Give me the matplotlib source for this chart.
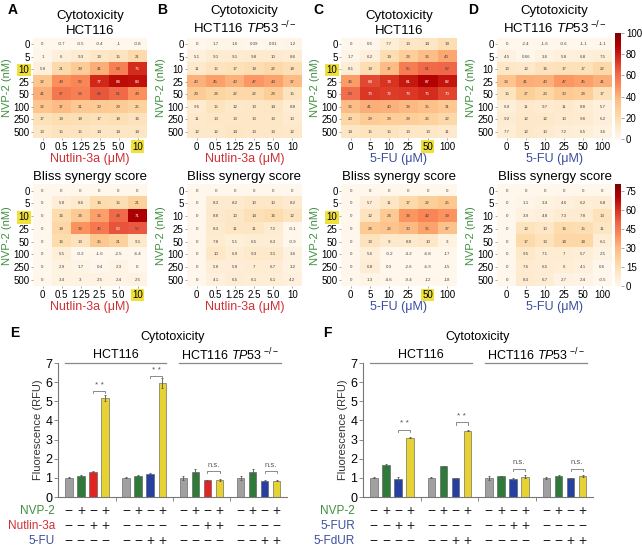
import numpy as np
import matplotlib
import matplotlib.pyplot as plt
from matplotlib import transforms

plt.rcParams['font.family'] = ['Liberation Sans', 'DejaVu Sans']
plt.rcParams['mathtext.fontset'] = 'custom'
plt.rcParams['mathtext.rm'] = 'Liberation Sans'
plt.rcParams['mathtext.it'] = 'Liberation Sans:italic'

# ---- data ----
nvp2_doses = ['0', '5', '10', '25', '50', '100', '250', '500']
nutlin_doses = ['0', '0.5', '1.25', '2.5', '5.0', '10']
fu_doses = ['0', '5', '10', '25', '50', '100']

cyto_nutlin_wt = [[0, -0.7, -0.5, -0.4, -1, -0.8],
                  [1, 6, 9.3, 13, 15, 21],
                  [5.8, 21, 29, 41, 54, 76],
                  [32, 49, 52, 77, 84, 83],
                  [41, 57, 54, 66, 61, 49],
                  [32, 37, 31, 30, 29, 25],
                  [17, 19, 18, 17, 18, 16],
                  [13, 15, 15, 14, 14, 14]]
cyto_nutlin_ko = [[0, 1.7, 1.6, 0.39, 0.91, 1.2],
                  [5.1, 9.1, 9.1, 9.8, 10, 8.6],
                  [11, 15, 17, 19, 22, 18],
                  [40, 45, 40, 47, 44, 37],
                  [29, 24, 22, 22, 28, 15],
                  [9.5, 15, 12, 13, 14, 8.8],
                  [11, 13, 13, 13, 13, 10],
                  [12, 12, 14, 13, 13, 12]]
cyto_fu_wt = [[0, 0.5, 7.7, 13, 14, 19],
              [1.7, 6.2, 19, 28, 36, 43],
              [8.1, 19, 37, 55, 61, 62],
              [46, 69, 74, 81, 87, 82],
              [60, 73, 72, 73, 76, 70],
              [36, 41, 40, 38, 35, 31],
              [23, 29, 28, 28, 26, 22],
              [14, 15, 15, 13, 13, 11]]
cyto_fu_ko = [[0, -2.4, -1.6, -0.6, -1.1, -1.1],
              [4.5, 0.66, 3.6, 5.8, 6.8, 7.5],
              [13, 12, 16, 17, 17, 22],
              [33, 41, 40, 47, 45, 41],
              [15, 27, 23, 30, 28, 17],
              [6.9, 11, 9.7, 11, 8.8, 5.7],
              [9.2, 12, 12, 10, 9.6, 6.2],
              [7.7, 12, 10, 7.2, 6.5, 3.6]]
bliss_nutlin_wt = [[0, 0, 0, 0, 0, 0],
                   [0, 5.8, 8.6, 16, 15, 21],
                   [0, 16, 24, 36, 49, 71],
                   [0, 18, 39, 45, 53, 52],
                   [0, 16, 13, 25, 21, 9.1],
                   [0, 5.5, -0.2, -1.6, -2.5, -6.4],
                   [0, 2.9, 1.7, 0.4, 2.3, 0],
                   [0, 3.4, 3, 2.5, 2.4, 2.5]]
bliss_nutlin_ko = [[0, 0, 0, 0, 0, 0],
                   [0, 8.3, 8.2, 10, 10, 8.2],
                   [0, 8.8, 10, 14, 16, 12],
                   [0, 8.3, 11, 11, 7.2, -0.1],
                   [0, 7.8, 5.1, 6.5, 6.3, -0.9],
                   [0, 10, 6.9, 9.3, 9.1, 3.6],
                   [0, 5.8, 5.8, 7, 6.7, 3.2],
                   [0, 4.1, 6.5, 6.1, 6.1, 4.2]]
bliss_fu_wt = [[0, 0, 0, 0, 0, 0],
               [0, 5.7, 11, 17, 22, 25],
               [0, 12, 24, 38, 42, 39],
               [0, 24, 26, 30, 35, 27],
               [0, 13, 9, 8.8, 10, 3],
               [0, 5.6, -0.2, -4.2, -6.8, -17],
               [0, 6.8, 0.3, -2.6, -6.9, -15],
               [0, 1.3, -4.6, -9.4, -12, -18]]
bliss_fu_ko = [[0, 0, 0, 0, 0, 0],
               [0, 1.1, 3.4, 4.6, 6.2, 6.8],
               [0, 3.9, 4.8, 7.3, 7.8, 13],
               [0, 12, 10, 16, 15, 11],
               [0, 17, 13, 18, 18, 6.1],
               [0, 9.5, 7.1, 7, 5.7, 2.5],
               [0, 7.6, 6.5, 6, 4.1, 0.6],
               [0, 8.3, 6.7, 2.7, 2.4, -0.5]]

e_vals = [[1.0, 1.12, 1.33, 5.17], [1.0, 1.12, 1.22, 5.95],
          [1.0, 1.30, 0.87, 0.88], [1.0, 1.30, 0.85, 0.85]]
e_errs = [[0.03, 0.03, 0.04, 0.18], [0.03, 0.03, 0.04, 0.25],
          [0.12, 0.16, 0.03, 0.04], [0.12, 0.16, 0.03, 0.04]]
f_vals = [[1.0, 1.65, 0.93, 3.10], [1.0, 1.60, 0.98, 3.47],
          [1.0, 1.08, 0.95, 1.07], [1.0, 1.08, 0.97, 1.10]]
f_errs = [[0.03, 0.08, 0.12, 0.04], [0.03, 0.03, 0.02, 0.04],
          [0.10, 0.04, 0.05, 0.08], [0.05, 0.06, 0.04, 0.07]]

e_rows = [('NVP-2', ['-+-+', '-+-+', '-+-+', '-+-+']),
          ('Nutlin-3a', ['--++', '----', '--++', '----']),
          ('5-FU', ['----', '--++', '----', '--++'])]
f_rows = [('NVP-2', ['-+-+', '-+-+', '-+-+', '-+-+']),
          ('5-FUR', ['--++', '----', '--++', '----']),
          ('5-FdUR', ['----', '--++', '----', '--++'])]

# ---- style ----
GREEN = '#3f8f3f'
RED = '#d03035'
BLUE = '#3a4ea0'
HILITE = '#f0e03a'
C_GRAY, C_GREEN, C_RED, C_YEL, C_BLUE = '#a0a0a0', '#2f7a38', '#e02424', '#e6d232', '#2540a0'
e_colors = [[C_GRAY, C_GREEN, C_RED, C_YEL], [C_GRAY, C_GREEN, C_BLUE, C_YEL],
            [C_GRAY, C_GREEN, C_RED, C_YEL], [C_GRAY, C_GREEN, C_BLUE, C_YEL]]
f_colors = [[C_GRAY, C_GREEN, C_BLUE, C_YEL]] * 4
row_colors_e = [GREEN, RED, BLUE]
row_colors_f = [GREEN, BLUE, BLUE]

W, H = 642, 547
fig = plt.figure(figsize=(W / 100, H / 100), dpi=100)
cmap = matplotlib.colormaps['OrRd']


def px_axes(x0, y0, x1, y1):
    return fig.add_axes([x0 / W, 1 - y1 / H, (x1 - x0) / W, (y1 - y0) / H])


def heatmap(ax, data, xlabels, xname, xcolor, vmax, title, width, hl_row=None, hl_col=None):
    data = np.array(data, float)
    norm = plt.Normalize(0, vmax)
    im = ax.imshow(data, cmap=cmap, norm=norm, aspect='auto', interpolation='nearest')
    for r in range(data.shape[0]):
        for c in range(data.shape[1]):
            v = data[r, c]
            rgb = cmap(norm(v))[:3]
            lum = 0.2126 * rgb[0] + 0.7152 * rgb[1] + 0.0722 * rgb[2]
            ax.text(c, r, f'{v:g}', ha='center', va='center', fontsize=3.2,
                    color='white' if lum < 0.45 else '#444444')
    ax.set_xticks(range(len(xlabels)))
    ax.set_xticklabels(xlabels, fontsize=7)
    ax.set_yticks(range(len(nvp2_doses)))
    ax.set_yticklabels(nvp2_doses, fontsize=7)
    ax.tick_params(length=1.5, width=0.5, color='#888888', pad=1)
    for s in ax.spines.values():
        s.set_visible(False)
    ax.set_ylabel('NVP-2 (nM)', color=GREEN, fontsize=8)
    ax.yaxis.set_label_coords(-20.5 / width, 0.5)
    ax.set_xlabel(xname + ' (μM)', color=xcolor, fontsize=9, labelpad=1)
    ax.set_title(title, fontsize=9.5, pad=3, linespacing=1.25)
    if hl_row is not None:
        ax.get_yticklabels()[hl_row].set_bbox(dict(facecolor=HILITE, edgecolor='none', pad=1))
    if hl_col is not None:
        ax.get_xticklabels()[hl_col].set_bbox(dict(facecolor=HILITE, edgecolor='none', pad=1))
    return im


ko_title = 'HCT116 $\\mathit{TP53}^{\\ \\mathit{-/-}}$'
cols_x = [(33, 147), (187, 302), (341, 456.5), (497, 612)]
top_y = (37.7, 138.3)
bot_y = (184.3, 286.4)

top_sets = [(cyto_nutlin_wt, nutlin_doses, 'Nutlin-3a', RED, 'Cytotoxicity\nHCT116', 2, 5),
            (cyto_nutlin_ko, nutlin_doses, 'Nutlin-3a', RED, 'Cytotoxicity\n' + ko_title, None, None),
            (cyto_fu_wt, fu_doses, '5-FU', BLUE, 'Cytotoxicity\nHCT116', 2, 4),
            (cyto_fu_ko, fu_doses, '5-FU', BLUE, 'Cytotoxicity\n' + ko_title, None, None)]
bot_sets = [(bliss_nutlin_wt, nutlin_doses, 'Nutlin-3a', RED, 2, 5),
            (bliss_nutlin_ko, nutlin_doses, 'Nutlin-3a', RED, None, None),
            (bliss_fu_wt, fu_doses, '5-FU', BLUE, 2, 4),
            (bliss_fu_ko, fu_doses, '5-FU', BLUE, None, None)]

for i, (d, xl, xn, xc, t, hr, hc) in enumerate(top_sets):
    x0, x1 = cols_x[i]
    ax = px_axes(x0, top_y[0], x1, top_y[1])
    im_top = heatmap(ax, d, xl, xn, xc, 100, t, x1 - x0, hr, hc)
for i, (d, xl, xn, xc, hr, hc) in enumerate(bot_sets):
    x0, x1 = cols_x[i]
    ax = px_axes(x0, bot_y[0], x1, bot_y[1])
    im_bot = heatmap(ax, d, xl, xn, xc, 80, 'Bliss synergy score', x1 - x0, hr, hc)

for im, (y0, y1), ticks in [(im_top, (33, 139), range(0, 101, 20)),
                            (im_bot, bot_y, range(0, 76, 15))]:
    cax = px_axes(615, y0, 621, y1)
    cb = fig.colorbar(im, cax=cax, ticks=list(ticks))
    cb.outline.set_visible(False)
    cax.tick_params(labelsize=7, length=2, width=0.5, color='#888888', pad=1.5)

for letter, x in zip('ABCD', [8, 157, 313, 468]):
    fig.text(x / W, 1 - 10 / H, letter, fontsize=10, fontweight='bold', va='center')
fig.text(10 / W, 1 - 333 / H, 'E', fontsize=10, fontweight='bold', va='center')
fig.text(323 / W, 1 - 333 / H, 'F', fontsize=10, fontweight='bold', va='center')


# ---- bar charts ----
def bar_panel(ax, vals, errs, colors, brackets, rows, row_colors, label_x):
    gstep = 4.75
    for g in range(4):
        xs = g * gstep + np.arange(4)
        ax.bar(xs, vals[g], width=0.62, color=colors[g], edgecolor='#555555', linewidth=0.4,
               yerr=errs[g], error_kw=dict(ecolor='#555555', elinewidth=0.6, capsize=1, capthick=0.6))
    ax.set_xlim(-0.9, 3 * gstep + 3 + 0.85)
    ax.set_ylim(0, 7)
    ax.set_yticks(range(8))
    ax.set_xticks([g * gstep - 0.875 for g in range(1, 4)])
    ax.set_xticklabels([])
    ax.tick_params(axis='y', labelsize=9, length=3, width=0.6, color='#777777', pad=1)
    ax.tick_params(axis='x', length=3, width=0.6, color='#777777')
    for s in ['top', 'right']:
        ax.spines[s].set_visible(False)
    for s in ['left', 'bottom']:
        ax.spines[s].set_color('#777777')
        ax.spines[s].set_linewidth(0.8)
    ax.set_ylabel('Fluorescence (RFU)', fontsize=8, labelpad=2, color='#333333')

    mid = (ax.get_xlim()[0] + ax.get_xlim()[1]) / 2
    ax.text(mid, 8.36, 'Cytotoxicity', ha='center', va='center', fontsize=9, clip_on=False)
    for g0, lab in [(0, 'HCT116'), (2, ko_title)]:
        x0 = g0 * gstep - 0.35
        x1 = (g0 + 1) * gstep + 3 + 0.35
        ax.plot([x0, x1], [7.0, 7.0], color='#888888', lw=0.9, clip_on=False)
        ax.text((x0 + x1) / 2, 7.42, lab, ha='center', va='center', fontsize=9, clip_on=False)

    for g, yb, txt, ty in brackets:
        x0 = g * gstep + 2
        x1 = g * gstep + 3
        ax.plot([x0, x0, x1, x1], [yb - 0.12, yb, yb, yb - 0.12], color='#777777', lw=0.6)
        ax.text((x0 + x1) / 2, ty, txt, ha='center', va='center',
                fontsize=5.5 if txt == 'n.s.' else 6, color='#555555')

    trans = transforms.blended_transform_factory(ax.transData, fig.transFigure)
    for (name, signs), rc, ypx in zip(rows, row_colors, [511, 526, 541]):
        fig.text(label_x / W, 1 - ypx / H, name, ha='right', va='center', fontsize=8.5, color=rc)
        for g in range(4):
            for k, ch in enumerate(signs[g]):
                ax.text(g * gstep + k, 1 - ypx / H, '+' if ch == '+' else '\u2212',
                        transform=trans, ha='center', va='center', fontsize=10, color='#222222')


axE = px_axes(58, 363, 287, 497)
bar_panel(axE, e_vals, e_errs, e_colors,
          [(0, 5.54, '* *', 5.85), (1, 6.34, '* *', 6.62), (2, 1.36, 'n.s.', 1.67), (3, 1.36, 'n.s.', 1.67)],
          e_rows, row_colors_e, 55)
axF = px_axes(363, 363, 593, 497)
bar_panel(axF, f_vals, f_errs, f_colors,
          [(0, 3.5, '* *', 3.82), (1, 3.9, '* *', 4.2), (2, 1.46, 'n.s.', 1.82), (3, 1.46, 'n.s.', 1.82)],
          f_rows, row_colors_f, 355)

fig.savefig('out.png', dpi=100)
